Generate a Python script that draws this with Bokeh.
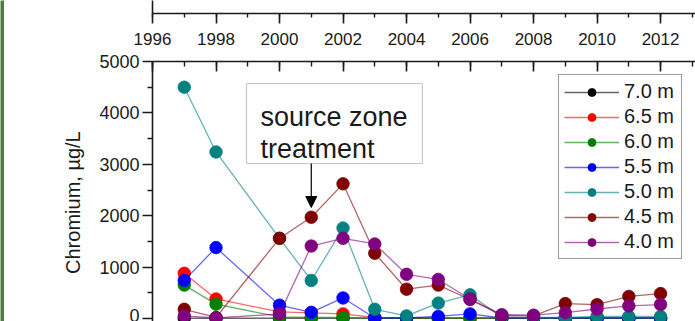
from bokeh.plotting import figure
from bokeh.layouts import column, row
from bokeh.models import (Range1d, FixedTicker, Legend, LegendItem, Label,
                          BoxAnnotation, Arrow, NormalHead, CustomJSTickFormatter)
from bokeh.embed import file_html
from bokeh.resources import INLINE

# ---------------- data ----------------
years = [1997, 1998, 2000, 2001, 2002, 2003, 2004, 2005, 2006, 2007, 2008, 2009, 2010, 2011, 2012]
cr_7_0 = [5, 5, 5, 5, 5, 5, 5, 5, 5, 5, 5, 5, 5, 5, 5]
cr_6_5 = [880, 380, 130, 110, 90, 20, 10, 10, 10, 10, 10, 10, 10, 10, 10]
cr_6_0 = [650, 280, 30, 20, 20, 5, 5, 5, 5, 5, 5, 5, 5, 5, 5]
cr_5_5 = [740, 1380, 260, 120, 400, 10, 10, 40, 90, 10, 10, 10, 10, 10, 10]
cr_5_0 = [4500, 3240, 1560, 740, 1760, 180, 50, 300, 460, 30, 20, 20, 40, 40, 40]
cr_4_5 = [180, 20, 1560, 1970, 2620, 1270, 570, 650, 370, 60, 50, 290, 270, 430, 485]
cr_4_0 = [50, 10, 90, 1410, 1560, 1450, 860, 760, 380, 75, 65, 115, 185, 245, 272]
series = [cr_7_0, cr_6_5, cr_6_0, cr_5_5, cr_5_0, cr_4_5, cr_4_0]
depth_labels = ["7.0 m", "6.5 m", "6.0 m", "5.5 m", "5.0 m", "4.5 m", "4.0 m"]
colors = ["#000000", "#ff0000", "#008000", "#0000ff", "#008080", "#800000", "#800080"]
x_major = [1996, 1998, 2000, 2002, 2004, 2006, 2008, 2010, 2012]
x_minor = list(range(1996, 2014))
y_major = [0, 1000, 2000, 3000, 4000, 5000]
y_minor = [500, 1500, 2500, 3500, 4500]
y_title = "Chromium, µg/L"
note_lines = ["source zone", "treatment"]

FONT = "Liberation Sans"
AX = "#1a1a1a"
TXT = "#1a1a1a"
X0, X1 = 1996, 2013.1
STRIP = 4
W = 695 - STRIP
LEFT = 152 - STRIP


def style_axis(ax):
    ax.axis_line_color = AX
    ax.axis_line_width = 1.6
    ax.major_tick_line_color = AX
    ax.major_tick_line_width = 1.6
    ax.minor_tick_line_color = AX
    ax.minor_tick_line_width = 1.4


# ------------- green page edge strip -------------
strip = figure(width=STRIP, height=321, output_backend="svg", toolbar_location=None,
               x_axis_location=None, y_axis_location=None,
               min_border_left=0, min_border_right=0, min_border_top=0, min_border_bottom=0)
strip.outline_line_color = None
strip.grid.visible = False
strip.background_fill_color = "#4e7c3a"
strip.border_fill_color = "#4e7c3a"

# ------------- top strip (previous panel's bottom edge) -------------
top = figure(width=W, height=24, x_range=Range1d(X0, X1), y_range=Range1d(0, 1),
             output_backend="svg", toolbar_location=None,
             min_border_left=LEFT, min_border_right=0, min_border_top=0, min_border_bottom=11)
top.outline_line_color = None
top.grid.visible = False
xa = top.xaxis[0]
style_axis(xa)
xa.ticker = FixedTicker(ticks=x_major, minor_ticks=x_minor)
xa.formatter = CustomJSTickFormatter(code="return ''")
xa.major_tick_out = 10
xa.major_tick_in = 0
xa.minor_tick_out = 4
xa.minor_tick_in = 0
xa.major_label_standoff = 0
xa.major_label_text_font_size = "1px"
ya = top.yaxis[0]
style_axis(ya)
ya.ticker = FixedTicker(ticks=[])
ya.major_tick_out = 0
ya.minor_tick_out = 0

# ------------- main panel -------------
p = figure(width=W, height=297, x_range=Range1d(X0, X1), y_range=Range1d(-58, 5000),
           output_backend="svg", toolbar_location=None, x_axis_location="above",
           min_border_left=LEFT, min_border_right=0, min_border_top=37, min_border_bottom=0)
p.outline_line_color = None
p.grid.visible = False

xt = p.xaxis[0]
style_axis(xt)
xt.ticker = FixedTicker(ticks=x_major, minor_ticks=x_minor)
xt.major_tick_in = 10
xt.major_tick_out = 0
xt.minor_tick_in = 5
xt.minor_tick_out = 0
xt.major_label_standoff = 17
xt.major_label_text_font = FONT
xt.major_label_text_font_size = "17px"
xt.major_label_text_color = TXT

yl = p.yaxis[0]
style_axis(yl)
yl.ticker = FixedTicker(ticks=y_major, minor_ticks=y_minor)
yl.major_tick_out = 10
yl.major_tick_in = 0
yl.minor_tick_out = 5
yl.minor_tick_in = 0
yl.major_label_standoff = 3
yl.major_label_text_font = FONT
yl.major_label_text_font_size = "18px"
yl.major_label_text_color = TXT
# trailing no-break spaces shift the centred title down to where the
# (taller, cut-off) original panel centres it
yl.axis_label = y_title + "\u00a0" * 4
yl.axis_label_standoff = 12
yl.axis_label_text_font = FONT
yl.axis_label_text_font_size = "20px"
yl.axis_label_text_font_style = "normal"
yl.axis_label_text_color = TXT

items = []
for vals, lab, col in zip(series, depth_labels, colors):
    lr = p.line(years, vals, line_color=col, line_width=1.3, line_alpha=0.6)
    sr = p.scatter(years, vals, size=12.5, fill_color=col, line_color=col, line_width=0.8)
    items.append(LegendItem(label=lab, renderers=[lr, sr]))

leg = Legend(items=items, location=(406, 62), orientation="vertical",
             label_text_font=FONT, label_text_font_size="20px", label_text_color=TXT,
             glyph_width=55, glyph_height=20, label_height=20, label_width=52,
             label_standoff=5, spacing=2, padding=5, margin=0,
             border_line_color="#333333", border_line_width=1.2,
             background_fill_color="white", background_fill_alpha=1.0)
p.add_layout(leg, "center")

# annotation box with arrow
p.add_layout(BoxAnnotation(left=1998.96, right=2004.5, top=4572, bottom=3016,
                           fill_color="white", fill_alpha=1.0,
                           line_color="#444444", line_width=1.2))
p.add_layout(Label(x=1999.4, y=3930, text=note_lines[0], text_font=FONT,
                   text_font_size="27px", text_color=TXT, text_baseline="alphabetic"))
p.add_layout(Label(x=1999.4, y=3307, text=note_lines[1], text_font=FONT,
                   text_font_size="27px", text_color=TXT, text_baseline="alphabetic"))
p.add_layout(Arrow(x_start=2001, y_start=3016, x_end=2001, y_end=2160,
                   line_color="black", line_width=1.2,
                   end=NormalHead(size=11, fill_color="black", line_color="black")))

layout = row(strip, column(top, p, spacing=0), spacing=0)
open("out.html", "w").write(file_html(layout, INLINE))
